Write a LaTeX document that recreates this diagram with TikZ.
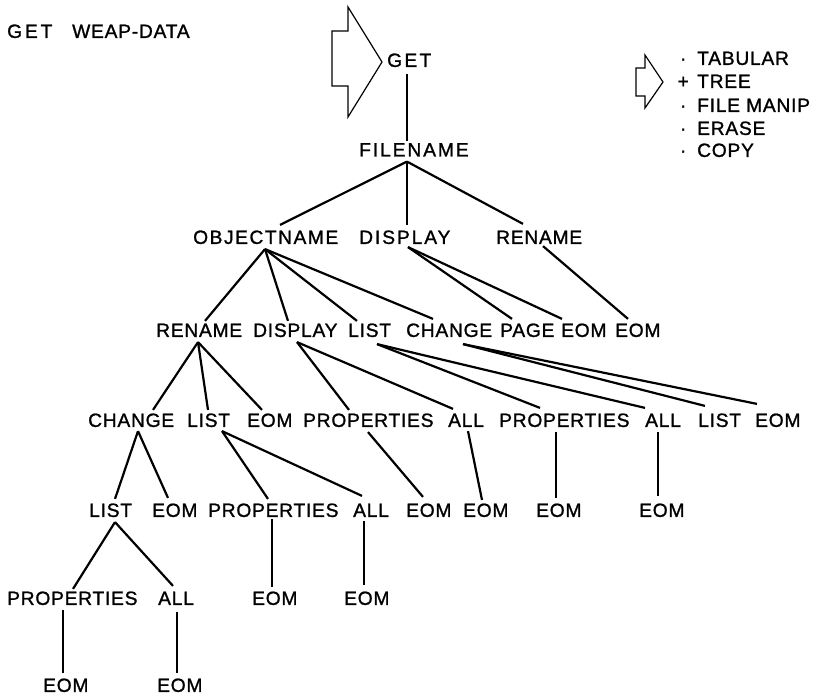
\documentclass[tikz,border=0pt]{standalone}
\usepackage{fontspec}
\setmainfont{Liberation Sans}[LetterSpace=4,FakeBold=1.2]
\begin{document}
\begin{tikzpicture}[x=1pt,y=-1pt,
  lbl/.style={anchor=west,inner xsep=0pt,inner ysep=5pt,text height=13.8pt,text depth=0pt,
              font=\fontsize{19.2}{22}\selectfont},
  edge/.style={line width=2.2pt},
  pointer/.style={line width=1.2pt,line join=miter}]
\useasboundingbox (0,0) rectangle (821,696);

% heading and the menu pointers
\node[lbl] (title) at (7,31)
  {\makebox[65pt][l]{\addfontfeature{LetterSpace=15}GET}WEAP-DATA};
\draw[pointer] (332,31) -- (348,31) -- (348,7) -- (382,62) -- (348,117) -- (348,86) -- (332,86) -- cycle;
\node[lbl] (get) at (387,60) {\addfontfeature{LetterSpace=12}GET};

\draw[pointer] (636,68) -- (645,68) -- (645,55) -- (663,82) -- (645,108) -- (645,96) -- (636,96) -- cycle;
\node[lbl] (m1) at (675,58)  {\makebox[16pt]{·}\hspace{6pt}TABULAR};
\node[lbl] (m2) at (675,81)  {\makebox[16pt]{+}\hspace{6pt}TREE};
\node[lbl] (m3) at (675,105) {\makebox[16pt]{·}\hspace{6pt}FILE MANIP};
\node[lbl] (m4) at (675,128) {\makebox[16pt]{·}\hspace{6pt}ERASE};
\node[lbl] (m5) at (675,150) {\makebox[16pt]{·}\hspace{6pt}COPY};

% tree labels, row by row
\node[lbl] (filename) at (359,149.5) {\addfontfeature{LetterSpace=10}FILENAME};

\node[lbl] (objn)  at (193,237) {\addfontfeature{LetterSpace=8}OBJECTNAME};
\node[lbl] (disp2) at (359,237) {\addfontfeature{LetterSpace=10}DISPLAY};
\node[lbl] (ren2)  at (496,237) {RENAME};

\node[lbl] (ren3)  at (156,330) {RENAME};
\node[lbl] (disp3) at (253,330) {DISPLAY};
\node[lbl] (list3) at (348,330) {LIST};
\node[lbl] (chg3)  at (406,330) {CHANGE};
\node[lbl] (page3) at (500,330) {PAGE};
\node[lbl] (eomA3) at (561,330) {EOM};
\node[lbl] (eomB3) at (615,330) {EOM};

\node[lbl] (chg4)   at (88,420)  {CHANGE};
\node[lbl] (list4)  at (187,420) {LIST};
\node[lbl] (eom4)   at (247,420) {EOM};
\node[lbl] (prop4a) at (303,420) {PROPERTIES};
\node[lbl] (all4a)  at (448,420) {ALL};
\node[lbl] (prop4b) at (499,420) {PROPERTIES};
\node[lbl] (all4b)  at (645,420) {ALL};
\node[lbl] (list4b) at (698,420) {LIST};
\node[lbl] (eom4b)  at (755,420) {EOM};

\node[lbl] (list5)  at (89,510)  {LIST};
\node[lbl] (eom5a)  at (152,510) {EOM};
\node[lbl] (prop5)  at (208,510) {PROPERTIES};
\node[lbl] (all5)   at (353,510) {ALL};
\node[lbl] (eom5b)  at (406,510) {EOM};
\node[lbl] (eom5c)  at (463,510) {EOM};
\node[lbl] (eom5d)  at (536,510) {EOM};
\node[lbl] (eom5e)  at (639,510) {EOM};

\node[lbl] (prop6) at (7,598)   {PROPERTIES};
\node[lbl] (all6)  at (158,598) {ALL};
\node[lbl] (eom6a) at (252,598) {EOM};
\node[lbl] (eom6b) at (344,598) {EOM};

\node[lbl] (eom7a) at (43,685)  {EOM};
\node[lbl] (eom7b) at (157,685) {EOM};

% branches: parent bottom edge to child top edge
\draw[edge] ([xshift=20pt,yshift=-2pt]get.south west) -- ([xshift=48pt,yshift=-4pt]filename.north west);

\draw[edge] ([xshift=48pt]filename.south west) -- ([xshift=87pt]objn.north west);
\draw[edge] ([xshift=48pt]filename.south west) -- ([xshift=48pt]disp2.north west);
\draw[edge] ([xshift=48pt]filename.south west) -- ([xshift=27pt,yshift=1pt]ren2.north west);

\draw[edge] ([xshift=72pt]objn.south west) -- ([xshift=49pt,yshift=-3pt]ren3.north west);
\draw[edge] ([xshift=72pt]objn.south west) -- ([xshift=35pt,yshift=-3pt]disp3.north west);
\draw[edge] ([xshift=72pt]objn.south west) -- ([xshift=9pt,yshift=-3pt]list3.north west);
\draw[edge] ([xshift=72pt]objn.south west) -- ([xshift=27pt,yshift=-1pt]chg3.north west);

\draw[edge] ([xshift=49pt,yshift=2pt]disp2.south west) -- ([xshift=12pt,yshift=-1pt]page3.north west);
\draw[edge] ([xshift=49pt,yshift=2pt]disp2.south west) -- ([xshift=1pt,yshift=-1pt]eomA3.north west);
\draw[edge] ([xshift=47pt,yshift=3pt]ren2.south west) -- ([xshift=13pt,yshift=-1pt]eomB3.north west);

\draw[edge] ([xshift=42pt]ren3.south west) -- ([xshift=65pt,yshift=-2pt]chg4.north west);
\draw[edge] ([xshift=42pt]ren3.south west) -- ([xshift=21pt,yshift=-2pt]list4.north west);
\draw[edge] ([xshift=42pt]ren3.south west) -- ([xshift=15pt,yshift=-2pt]eom4.north west);

\draw[edge] ([xshift=44pt]disp3.south west) -- ([xshift=46pt,yshift=-2pt]prop4a.north west);
\draw[edge] ([xshift=44pt]disp3.south west) -- ([xshift=5pt,yshift=-1pt]all4a.north west);

\draw[edge] ([xshift=29pt,yshift=-2pt]list3.south west) -- ([xshift=41pt]prop4b.north west);
\draw[edge] ([xshift=29pt,yshift=-2pt]list3.south west) -- ([xshift=0pt]all4b.north west);

\draw[edge] ([xshift=57pt,yshift=-2pt]chg3.south west) -- ([xshift=7pt,yshift=2pt]list4b.north west);
\draw[edge] ([xshift=57pt,yshift=-2pt]chg3.south west) -- ([xshift=2pt,yshift=4pt]eom4b.north west);

\draw[edge] ([xshift=50pt,yshift=1pt]chg4.south west) -- ([xshift=26pt,yshift=-1pt]list5.north west);
\draw[edge] ([xshift=50pt,yshift=1pt]chg4.south west) -- ([xshift=16pt]eom5a.north west);

\draw[edge] ([xshift=35pt,yshift=1pt]list4.south west) -- ([xshift=60pt,yshift=-1pt]prop5.north west);
\draw[edge] ([xshift=35pt,yshift=1pt]list4.south west) -- ([xshift=9pt,yshift=2pt]all5.north west);

\draw[edge] ([xshift=65pt]prop4a.south west) -- ([xshift=17pt,yshift=1pt]eom5b.north west);
\draw[edge] ([xshift=20pt,yshift=1pt]all4a.south west) -- ([xshift=19pt,yshift=-2pt]eom5c.north west);
\draw[edge] ([xshift=57pt]prop4b.south west) -- ([xshift=20pt]eom5d.north west);
\draw[edge] ([xshift=13pt]all4b.south west) -- ([xshift=19pt,yshift=2pt]eom5e.north west);

\draw[edge] ([xshift=26pt]list5.south west) -- ([xshift=66pt,yshift=-3pt]prop6.north west);
\draw[edge] ([xshift=26pt]list5.south west) -- ([xshift=15pt]all6.north west);

\draw[edge] ([xshift=64pt,yshift=3pt]prop5.south west) -- ([xshift=20pt,yshift=-1pt]eom6a.north west);
\draw[edge] ([xshift=11pt,yshift=1pt]all5.south west) -- ([xshift=20pt,yshift=1pt]eom6b.north west);

\draw[edge] ([xshift=56pt]prop6.south west) -- ([xshift=20pt]eom7a.north west);
\draw[edge] ([xshift=19pt,yshift=-2pt]all6.south west) -- ([xshift=20pt]eom7b.north west);
\end{tikzpicture}
\end{document}
